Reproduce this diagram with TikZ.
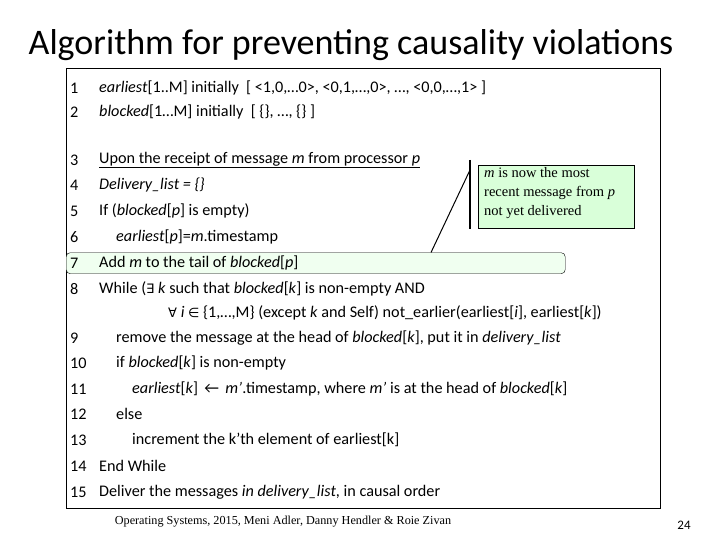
\documentclass[tikz,border=0pt]{standalone}
\usepackage{fontspec}
\setmainfont{Carlito}
\newfontfamily\timesf{Liberation Serif}
\newfontfamily\symf{DejaVu Sans}
\newcommand{\sy}[1]{{\symf\fontsize{13}{15}\selectfont #1}}
\begin{document}
\begin{tikzpicture}[x=1pt,y=-1pt,
  ln/.style={anchor=west,font=\fontsize{16.2}{18}\selectfont,inner sep=0pt},
  num/.style={anchor=west,font=\fontsize{16.2}{18}\selectfont,inner sep=0pt}]
\useasboundingbox (0,0) rectangle (720,540);
\node[font=\fontsize{36}{40}\selectfont] (title) at (351,45) {Algorithm for preventing causality violations};
\node[draw,line width=0.6pt,minimum width=594,minimum height=440,anchor=north west,inner sep=0] (frame) at (66,68) {};
\node[draw,rounded corners=4pt,fill=green!6,minimum width=499,minimum height=21,anchor=north west,inner sep=0] (hl) at (66,252.5) {};
\node[draw,fill=green!15,line width=0.8pt,minimum width=156,minimum height=63,anchor=north west,inner sep=0] (note) at (478,165) {};
\node[anchor=north west,align=left,font=\timesf\fontsize{14.5}{19}\selectfont,inner sep=0] (notetext) at (484,167) {\textit{m} is now the most\\recent message from \textit{p}\\not yet delivered};
\coordinate (bt) at (470,160);
\coordinate (bb) at (470,229);
\draw[line width=1.2pt] (bt) -- (bb);
\coordinate (bj) at (470,170);
\coordinate (hj) at (431,252.5);
\draw[line width=1pt] (bj) -- (hj);
\foreach \n/\y in {1/88,2/112,3/160,4/185,5/211,6/237,7/263,8/289,9/338,10/363,11/389,12/414,13/440,14/466,15/492}
  \node[num] (n\n) at (70,\y) {\n};
\node[ln] (l1) at (99,88) {\textit{earliest}[1..M] initially \ [ <1,0,…0>, <0,1,…,0>, …, <0,0,…,1> ]};
\node[ln] (l2) at (99,112) {\textit{blocked}[1…M] initially \ [ \{\}, …, \{\} ]};
\node[ln] (l3) at (99,160) {\underline{Upon the receipt of message \textit{m} from processor \textit{p}}};
\node[ln] (l4) at (99,185) {\textit{Delivery\_list = \{\}}};
\node[ln] (l5) at (99,211) {If (\textit{blocked}[\textit{p}] is empty)};
\node[ln] (l6) at (116,237) {\textit{earliest}[\textit{p}]=\textit{m}.timestamp};
\node[ln] (l7) at (99,263) {Add \textit{m} to the tail of \textit{blocked}[\textit{p}]};
\node[ln] (l8) at (99,289) {While (\sy{∃} \textit{k} such that \textit{blocked}[\textit{k}] is non-empty AND};
\node[ln] (l8b) at (168,313) {\sy{∀} \textit{i} \sy{∈} \{1,…,M\} (except \textit{k} and Self) not\_earlier(earliest[\textit{i}], earliest[\textit{k}])};
\node[ln] (l9) at (116,338) {remove the message at the head of \textit{blocked}[\textit{k}], put it in \textit{delivery\_list}};
\node[ln] (l10) at (116,363) {if \textit{blocked}[\textit{k}] is non-empty};
\node[ln] (l11) at (132,389) {\textit{earliest}[\textit{k}] \,←\, \textit{m'}.timestamp, where \textit{m'} is at the head of \textit{blocked}[\textit{k}]};
\node[ln] (l12) at (116,414) {else};
\node[ln] (l13) at (132,440) {increment the k'th element of earliest[k]};
\node[ln] (l14) at (99,466) {End While};
\node[ln] (l15) at (99,492) {Deliver the messages \textit{in delivery\_list}, in causal order};
\node[font=\timesf\fontsize{12.2}{14}\selectfont] (foot) at (283,522) {Operating Systems, 2015, Meni Adler, Danny Hendler \& Roie Zivan};
\node[font=\fontsize{13}{14}\selectfont] (pg) at (684,525) {24};
\end{tikzpicture}
\end{document}
